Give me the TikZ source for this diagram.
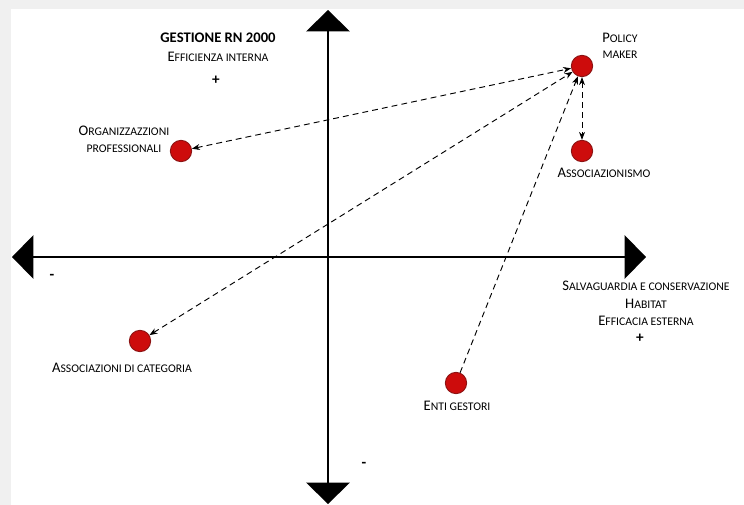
\documentclass[tikz,border=0pt]{standalone}
\usepackage{fontspec}
\setmainfont{Carlito}
\usetikzlibrary{arrows.meta,positioning}
\definecolor{dotred}{RGB}{205,12,12}
\definecolor{dotedge}{RGB}{140,20,20}
\definecolor{framegray}{RGB}{240,240,240}
\newcommand{\scword}[2]{{\fontsize{12.5}{14}\selectfont #1}{\fontsize{10}{11}\selectfont #2}}
\newcommand{\scsmall}[1]{{\fontsize{10}{11}\selectfont #1}}

\begin{document}
\begin{tikzpicture}[x=0.03cm,y=-0.03cm,
    actor/.style={circle,draw=dotedge,fill=dotred,thick,minimum size=0.64cm,inner sep=0pt},
    lbl/.style={inner sep=0pt,align=center,text=black},
    sign/.style={inner sep=0pt,font=\fontsize{13}{14}\selectfont\bfseries},
    axis/.style={line width=1.5pt,{Triangle[length=0.64cm,width=1.3cm]}-{Triangle[length=0.64cm,width=1.3cm]}},
    link/.style={dashed,dash pattern=on 5pt off 3.5pt,line width=0.8pt,>={Stealth[length=0.24cm,width=0.18cm]}}]
    % frame
    \fill[framegray] (0,0) rectangle (744,505);
    \fill[white] (11,9) rectangle (744,505);
    \useasboundingbox (0,0) rectangle (744,505);

    % Axes
    \coordinate (ytop) at (328,10);
    \coordinate (ybot) at (328,504);
    \coordinate (xleft) at (12,257);
    \coordinate (xright) at (646,257);
    \draw[axis] (ybot) -- (ytop);
    \draw[axis] (xleft) -- (xright);

    % Quadrant texts
    \node[lbl,font=\fontsize{12.5}{14}\selectfont\bfseries] (gest) at (218,38) {GESTIONE RN 2000};
    \node[lbl] (effint) at (218,57) {\scword{E}{FFICIENZA INTERNA}};
    \node[sign] (plusy) at (216,80) {+};
    \node[lbl] (salv) at (646,286) {\scword{S}{ALVAGUARDIA E CONSERVAZIONE}};
    \node[lbl] (hab) at (646,304) {\scword{H}{ABITAT}};
    \node[lbl] (effest) at (646,321) {\scword{E}{FFICACIA ESTERNA}};
    \node[sign] (plusx) at (640,338) {+};
    \node[sign] (minx) at (52,277) {-};
    \node[sign] (miny) at (364,465) {-};

    % Actors
    \node[actor] (pm) at (582,66) {};
    \node[actor] (org) at (181,151) {};
    \node[actor] (assoc) at (582,151) {};
    \node[actor] (cat) at (140,341) {};
    \node[actor] (enti) at (456,383) {};

    \node[lbl] (pmtxt) at (620,38) {\scword{P}{OLICY}};
    \node[lbl] (pmtxt2) at (620,55) {\scsmall{MAKER}};
    \node[lbl] (orgtxt) at (124,131) {\scword{O}{RGANIZZAZZIONI}};
    \node[lbl] (orgtxt2) at (124,149) {\scsmall{PROFESSIONALI}};
    \node[lbl] (assoctxt) at (604,173) {\scword{A}{SSOCIAZIONISMO}};
    \node[lbl] (cattxt) at (122,368) {\scword{A}{SSOCIAZIONI DI CATEGORIA}};
    \node[lbl] (entitxt) at (457,406) {\scword{E}{NTI GESTORI}};

    % Relations
    \draw[link,<->] (org) -- (pm);
    \draw[link,<->] (cat) -- (pm);
    \draw[link,->] (enti) -- (pm);
    \draw[link,<->] (pm) -- (assoc);
\end{tikzpicture}
\end{document}
